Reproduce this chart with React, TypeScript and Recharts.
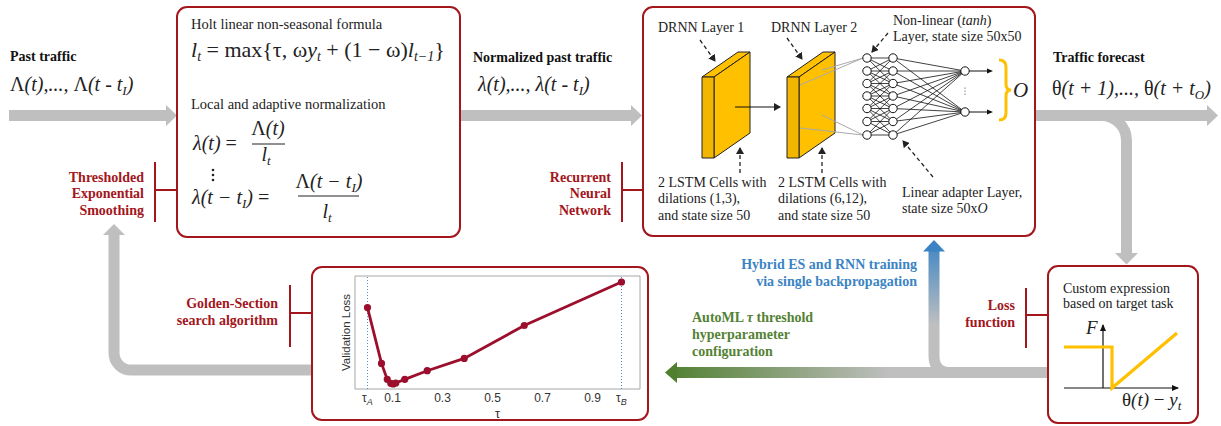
import { LineChart, Line, XAxis, YAxis, ReferenceArea, ReferenceLine } from "recharts";

// golden-section search trace
const tau = [0, 0.056, 0.079, 0.093, 0.103, 0.113, 0.149, 0.239, 0.387, 0.627, 1.016];
const validationLoss = [2.45, 0.77, 0.29, 0.17, 0.15, 0.18, 0.29, 0.55, 0.92, 1.91, 3.22];
const tauTicks = [0, 0.1, 0.3, 0.5, 0.7, 0.9, 1.016];
const tauTickLabels = ["τ_A", "0.1", "0.3", "0.5", "0.7", "0.9", "τ_B"];

const chartData = tau.map((t, i) => ({ tau: t, loss: validationLoss[i] }));

const RED = "#a3161c";
const GRAY = "#bfbfbf";
const YEL = "#ffc000";
const SERIF = "'Liberation Serif', 'Times New Roman', serif";
const SANS = "'Liberation Sans', Arial, sans-serif";

const TauTick = (props: any) => {
  const { x, y, payload } = props;
  const lab = tauTickLabels[tauTicks.indexOf(payload.value)] ?? String(payload.value);
  const [main, sub] = lab.split("_");
  return (
    <text x={x} y={y + 13} textAnchor="middle" fontSize={12} fill="#333" fontFamily={SANS}>
      {main}
      {sub && (
        <tspan fontSize={9} fontStyle="italic" dy={3}>
          {sub}
        </tspan>
      )}
    </text>
  );
};

// math run: plain strings upright, {i} italic, {s} italic subscript
type Part = string | { i: string } | { s: string };
function mx(parts: Part[], subSize = 13) {
  let down = false;
  return parts.map((p, k) => {
    if (typeof p === "object" && "s" in p) {
      const dy = down ? 0 : 4;
      down = true;
      return (
        <tspan key={k} dy={dy} fontSize={subSize} fontStyle="italic">
          {p.s}
        </tspan>
      );
    }
    const dy = down ? -4 : 0;
    down = false;
    if (typeof p === "object")
      return (
        <tspan key={k} dy={dy} fontStyle="italic">
          {p.i}
        </tspan>
      );
    return (
      <tspan key={k} dy={dy}>
        {p}
      </tspan>
    );
  });
}

function rightArrow(x1: number, tip: number, y: number) {
  const h = 11;
  return `${x1},${y - 5.5} ${tip - h},${y - 5.5} ${tip - h},${y - 10.5} ${tip},${y} ${tip - h},${y + 10.5} ${tip - h},${y + 5.5} ${x1},${y + 5.5}`;
}

const col1 = [58, 71, 83.5, 96, 108.5, 121.5, 135];
const outs = [71, 112];

function Net() {
  const lines: any[] = [];
  col1.forEach((a, i) =>
    col1.forEach((b, j) => {
      if (Math.abs(i - j) <= 2) lines.push(<line key={`a${i}${j}`} x1={867} y1={a} x2={893} y2={b} stroke="#111" strokeWidth={0.8} />);
    })
  );
  col1.forEach((a, i) =>
    outs.forEach((b, j) => lines.push(<line key={`b${i}${j}`} x1={893} y1={a} x2={965} y2={b} stroke="#111" strokeWidth={0.8} />))
  );
  return (
    <g>
      <line x1={800} y1={85} x2={863} y2={58} stroke="#aaa" />
      <line x1={822} y1={70} x2={863} y2={58} stroke="#aaa" />
      <line x1={800} y1={128} x2={863} y2={135} stroke="#aaa" />
      <line x1={822} y1={115} x2={863} y2={135} stroke="#aaa" />
      {lines}
      {col1.map((y, i) => (
        <g key={i}>
          <circle cx={867} cy={y} r={4.2} fill="#fff" stroke="#111" />
          <circle cx={893} cy={y} r={4.2} fill="#fff" stroke="#111" />
        </g>
      ))}
      {outs.map((y, i) => (
        <g key={i}>
          <circle cx={965} cy={y} r={4.2} fill="#fff" stroke="#111" />
          <line x1={969} y1={y} x2={988} y2={y} stroke="#111" />
          <polygon points={`${987},${y - 2.5} ${993},${y} ${987},${y + 2.5}`} fill="#111" />
        </g>
      ))}
      <circle cx={965} cy={88} r={0.6} fill="#333" />
      <circle cx={965} cy={91} r={0.6} fill="#333" />
      <circle cx={965} cy={94} r={0.6} fill="#333" />
    </g>
  );
}

function Slab({ x }: { x: number }) {
  return (
    <g stroke="#222" strokeWidth={1} fill={YEL}>
      <polygon points={`${x},77 ${x + 36},52 ${x + 48},52 ${x + 12},77`} />
      <polygon points={`${x + 12},77 ${x + 48},52 ${x + 48},133 ${x + 12},158`} />
      <polygon points={`${x},77 ${x + 12},77 ${x + 12},158 ${x},158`} fill="#f2b600" />
    </g>
  );
}

function Dash({ x1, y1, x2, y2 }: { x1: number; y1: number; x2: number; y2: number }) {
  return <line x1={x1} y1={y1} x2={x2} y2={y2} stroke="#222" strokeWidth={1.3} strokeDasharray="4 3" markerEnd="url(#ah)" />;
}

function Diagram() {
  const lbl = { fontFamily: SERIF, fontWeight: 700, fontSize: 14 } as const;
  const body = { fontFamily: SERIF, fontSize: 14.5, fill: "#222" } as const;
  const math = { fontFamily: SERIF, fontSize: 20, fill: "#222" } as const;
  return (
    <svg width={1221} height={426} style={{ position: "absolute", left: 0, top: 0 }}>
      <defs>
        <marker id="ah" markerWidth="8" markerHeight="8" refX="6" refY="4" orient="auto" markerUnits="userSpaceOnUse">
          <path d="M0,0 L7,4 L0,8 z" fill="#222" />
        </marker>
        <marker id="axh" markerWidth="8" markerHeight="8" refX="6" refY="4" orient="auto" markerUnits="userSpaceOnUse">
          <path d="M0,1 L7,4 L0,7 z" fill="#111" />
        </marker>
        <linearGradient id="gGreen" gradientUnits="userSpaceOnUse" x1={665} y1={0} x2={890} y2={0}>
          <stop offset="0" stopColor="#4f7f2f" />
          <stop offset="1" stopColor={GRAY} />
        </linearGradient>
        <linearGradient id="gBlue" gradientUnits="userSpaceOnUse" x1={0} y1={240} x2={0} y2={325}>
          <stop offset="0" stopColor="#3b84c4" />
          <stop offset="1" stopColor={GRAY} />
        </linearGradient>
      </defs>

      {/* gray flow arrows */}
      <polygon points={rightArrow(9, 177, 115.5)} fill={GRAY} />
      <polygon points={rightArrow(460, 642, 115.5)} fill={GRAY} />
      <polygon points={rightArrow(1035, 1218, 115.5)} fill={GRAY} />
      <path d="M1090 115.5 H1101 A25 25 0 0 1 1126.5 140.5 V254" stroke={GRAY} strokeWidth={11} fill="none" />
      <polygon points="1115,253 1138,253 1126.5,264.5" fill={GRAY} />
      <path d="M312 370 H131 A17 17 0 0 1 114 353 V234" stroke={GRAY} strokeWidth={11} fill="none" />
      <polygon points="103,235 125,235 114,224" fill={GRAY} />
      <path d="M1048 372.5 H675" stroke="url(#gGreen)" strokeWidth={11} fill="none" />
      <polygon points="677,362 677,383 665,372.5" fill="#4f7f2f" />
      <path d="M934 250 V356 Q934 372.5 951 372.5 H960" stroke="url(#gBlue)" strokeWidth={11} fill="none" />
      <polygon points="923,251.5 945,251.5 934,240" fill="#3b84c4" />

      {/* boxes */}
      <rect x={177} y={7} width={283} height={230} rx={10} fill="#fff" stroke={RED} strokeWidth={2} />
      <rect x={643} y={7} width={392} height={229} rx={10} fill="#fff" stroke={RED} strokeWidth={2} />
      <rect x={312} y={267} width={336} height={153} rx={10} fill="#fff" stroke={RED} strokeWidth={2} />
      <rect x={1048} y={266} width={150} height={157} rx={10} fill="#fff" stroke={RED} strokeWidth={2} />

      {/* brackets */}
      <g stroke={RED} strokeWidth={2}>
        <line x1={155} y1={162} x2={155} y2={222} />
        <line x1={155} y1={190} x2={177} y2={190} />
        <line x1={622} y1={162} x2={622} y2={222} />
        <line x1={622} y1={190} x2={643} y2={190} />
        <line x1={290} y1={285} x2={290} y2={347} />
        <line x1={290} y1={313} x2={312} y2={313} />
        <line x1={1026} y1={288} x2={1026} y2={348} />
        <line x1={1026} y1={315} x2={1048} y2={315} />
      </g>

      {/* red labels */}
      <g {...lbl} fill={RED} textAnchor="end">
        <text x={144} y={182}>Thresholded</text>
        <text x={144} y={198}>Exponential</text>
        <text x={144} y={215}>Smoothing</text>
        <text x={611} y={182}>Recurrent</text>
        <text x={611} y={198}>Neural</text>
        <text x={611} y={215}>Network</text>
        <text x={278} y={308}>Golden-Section</text>
        <text x={278} y={325}>search algorithm</text>
        <text x={1015} y={310}>Loss</text>
        <text x={1015} y={327}>function</text>
      </g>
      <g {...lbl} fill="#3b84c4" textAnchor="end">
        <text x={917} y={269}>Hybrid ES and RNN training</text>
        <text x={917} y={286}>via single backpropagation</text>
      </g>
      <g {...lbl} fill="#548235">
        <text x={692} y={322}>
          AutoML <tspan fontStyle="italic">τ</tspan> threshold
        </text>
        <text x={692} y={339}>hyperparameter</text>
        <text x={692} y={356}>configuration</text>
      </g>

      {/* flow headings */}
      <g {...lbl} fill="#111">
        <text x={10} y={61}>Past traffic</text>
        <text x={473} y={62}>Normalized past traffic</text>
        <text x={1053} y={62}>Traffic forecast</text>
      </g>
      <text x={10} y={91} {...math}>
        {mx(["Λ", { i: "(t),..., " }, "Λ", { i: "(t - t" }, { s: "I" }, { i: ")" }])}
      </text>
      <text x={478} y={91} {...math}>
        {mx([{ i: "λ(t),..., λ(t - t" }, { s: "I" }, { i: ")" }])}
      </text>
      <text x={1052} y={95} {...math}>
        {mx(["θ", { i: "(t + 1),..., " }, "θ", { i: "(t + t" }, { s: "O" }, { i: ")" }])}
      </text>

      {/* ES box contents */}
      <text x={191} y={29} {...body}>Holt linear non-seasonal formula</text>
      <text x={191} y={57} {...math} fontSize={22}>
        {mx([{ i: "l" }, { s: "t" }, " = max{τ, ω", { i: "y" }, { s: "t" }, " + (1 − ω)", { i: "l" }, { s: "t−1" }, "}"], 14)}
      </text>
      <text x={191} y={109} {...body}>Local and adaptive normalization</text>
      <text x={193} y={150} {...math}>
        {mx([{ i: "λ(t)" }, " ="])}
      </text>
      <text x={268} y={135} {...math} textAnchor="middle">
        {mx(["Λ", { i: "(t)" }])}
      </text>
      <line x1={252} y1={144} x2={285} y2={144} stroke="#222" strokeWidth={1} />
      <text x={266} y={161} {...math} textAnchor="middle">
        {mx([{ i: "l" }, { s: "t" }])}
      </text>
      <circle cx={213} cy={170} r={1.3} fill="#222" />
      <circle cx={213} cy={175} r={1.3} fill="#222" />
      <circle cx={213} cy={180} r={1.3} fill="#222" />
      <text x={192} y={204} {...math}>
        {mx([{ i: "λ(t − t" }, { s: "I" }, { i: ")" }, " ="])}
      </text>
      <text x={329} y={188} {...math} textAnchor="middle">
        {mx(["Λ", { i: "(t − t" }, { s: "I" }, { i: ")" }])}
      </text>
      <line x1={298} y1={196} x2={359} y2={196} stroke="#222" strokeWidth={1} />
      <text x={327} y={218} {...math} textAnchor="middle">
        {mx([{ i: "l" }, { s: "t" }])}
      </text>

      {/* RNN box contents */}
      <g {...body} fontSize={14}>
        <text x={658} y={32}>DRNN Layer 1</text>
        <text x={771} y={32}>DRNN Layer 2</text>
        <text x={893} y={25}>
          Non-linear (<tspan fontStyle="italic">tanh</tspan>)
        </text>
        <text x={893} y={41}>Layer, state size 50x50</text>
        <text x={658} y={187}>2 LSTM Cells with</text>
        <text x={658} y={203}>dilations (1,3),</text>
        <text x={658} y={220}>and state size 50</text>
        <text x={778} y={187}>2 LSTM Cells with</text>
        <text x={778} y={203}>dilations (6,12),</text>
        <text x={778} y={220}>and state size 50</text>
        <text x={902} y={197}>Linear adapter Layer,</text>
        <text x={902} y={213}>
          state size 50x<tspan fontStyle="italic">O</tspan>
        </text>
      </g>
      <Slab x={702} />
      <line x1={735} y1={107} x2={780} y2={107} stroke="#111" strokeWidth={1.2} markerEnd="url(#ah)" />
      <Slab x={787} />
      <Net />
      <path d="M999 60 Q1006 60 1006 67 V84 Q1006 90 1011 90 Q1006 90 1006 96 V113 Q1006 120 999 120" stroke={YEL} strokeWidth={3} fill="none" />
      <text x={1013} y={97} {...math} fontSize={21} fontStyle="italic">
        O
      </text>
      <Dash x1={700} y1={40} x2={715} y2={61} />
      <Dash x1={787} y1={38} x2={802} y2={59} />
      <Dash x1={888} y1={33} x2={872} y2={52} />
      <Dash x1={740} y1={173} x2={740} y2={148} />
      <Dash x1={822} y1={173} x2={822} y2={148} />
      <Dash x1={933} y1={177} x2={903} y2={141} />

      {/* loss box contents */}
      <text x={1063} y={293} {...body} fontSize={14}>Custom expression</text>
      <text x={1063} y={308} {...body} fontSize={14}>based on target task</text>
      <line x1={1103} y1={388} x2={1103} y2={325} stroke="#111" strokeWidth={1.2} markerEnd="url(#axh)" />
      <line x1={1064} y1={388} x2={1178} y2={388} stroke="#111" strokeWidth={1.2} markerEnd="url(#axh)" />
      <text x={1086} y={334} {...math} fontSize={19} fontStyle="italic">
        F
      </text>
      <path d="M1064 347 H1112 V388 L1177 333" stroke={YEL} strokeWidth={3.2} fill="none" />
      <text x={1122} y={406} {...math} fontSize={19}>
        {mx(["θ", { i: "(t)" }, " − ", { i: "y" }, { s: "t" }])}
      </text>
    </svg>
  );
}

export default function App() {
  return (
    <div style={{ position: "absolute", left: 0, top: 0, width: 1221, height: 426, background: "#fff", overflow: "hidden" }}>
      <Diagram />
      <div style={{ position: "absolute", left: 311, top: 267 }}>
        <LineChart width={337} height={153} data={chartData} margin={{ top: 9, right: 8, left: 0, bottom: 0 }}>
          <XAxis
            type="number"
            dataKey="tau"
            domain={[-0.05, 1.09]}
            ticks={tauTicks}
            allowDataOverflow
            axisLine={false}
            tickLine={false}
            tickSize={0}
            tickMargin={0}
            interval={0}
            height={31}
            tick={<TauTick />}
            label={{ value: "τ", position: "insideBottom", offset: 2, fontSize: 13, fill: "#333", fontFamily: SANS }}
          />
          <YAxis
            type="number"
            domain={[0, 3.4]}
            allowDataOverflow
            width={44}
            tick={false}
            axisLine={false}
            tickLine={false}
            label={{ value: "Validation Loss", angle: -90, position: "center", dx: 13, fontSize: 11.5, fill: "#333", fontFamily: SANS }}
          />
          <ReferenceArea x1={-0.05} x2={1.09} y1={0} y2={3.4} fill="none" stroke="#a6a6a6" strokeWidth={1} ifOverflow="visible" />
          <ReferenceLine x={0} stroke="#4a8fd0" strokeDasharray="1 2" />
          <ReferenceLine x={1.016} stroke="#4a8fd0" strokeDasharray="1 2" />
          <Line
            type="linear"
            dataKey="loss"
            stroke="#9c0f2c"
            strokeWidth={2.8}
            dot={{ r: 2.2, fill: "#9c0f2c", stroke: "#9c0f2c" }}
            isAnimationActive={false}
          />
        </LineChart>
      </div>
    </div>
  );
}
